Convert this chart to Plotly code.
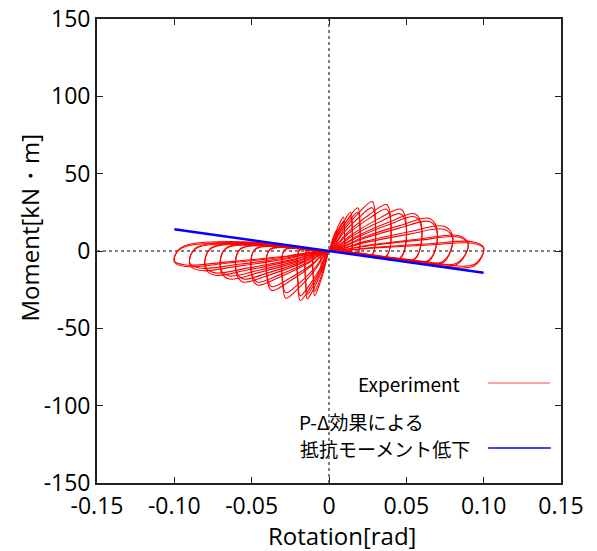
import plotly.graph_objects as go

# ---- data ----
x_ticks = [-0.15, -0.10, -0.05, 0, 0.05, 0.10, 0.15]
x_tick_labels = ["-0.15", "-0.10", "-0.05", "0", "0.05", "0.10", "0.15"]
y_ticks = [-150, -100, -50, 0, 50, 100, 150]
y_tick_labels = ["-150", "-100", "-50", "0", "50", "100", "150"]

# P-delta resisting moment reduction line
pdelta_x = [-0.10, 0.10]
pdelta_y = [14, -14]

# Experiment: positive half cycles (loading, peak, tip, unloading points)
pos_half_cycles = [
    [(0.0015, 5.2), (0.0033, 10.1), (0.0047, 13), (0.005, 8.1), (0.0046, -0.5), (0.0028, -0.4)],
    [(0.003, 8.8), (0.0065, 17.2), (0.0093, 22), (0.01, 13.4), (0.0092, -1), (0.0055, -0.7)],
    [(0.003, 7.6), (0.0065, 14.8), (0.0093, 19), (0.01, 11.3), (0.0092, -0.9), (0.0055, -0.6)],
    [(0.0045, 10), (0.0098, 19.5), (0.014, 25), (0.015, 15.5), (0.0138, -1.4), (0.0083, -1.1)],
    [(0.0045, 8.8), (0.0098, 17.2), (0.014, 22), (0.015, 13.4), (0.0138, -1.3), (0.0083, -0.9)],
    [(0.006, 11.2), (0.013, 21.8), (0.0186, 28), (0.02, 17.6), (0.0184, -1.9), (0.011, -1.4)],
    [(0.006, 10), (0.013, 19.5), (0.0186, 25), (0.02, 15.5), (0.0184, -1.7), (0.011, -1.2)],
    [(0.009, 12.8), (0.0195, 25), (0.0279, 32), (0.03, 20.4), (0.0276, -2.9), (0.0165, -2.1)],
    [(0.009, 11.2), (0.0195, 21.8), (0.0279, 28), (0.03, 17.6), (0.0276, -2.6), (0.0165, -1.8)],
    [(0.012, 12), (0.026, 23.4), (0.0372, 30), (0.04, 19), (0.0368, -3.8), (0.022, -2.8)],
    [(0.012, 10.8), (0.026, 21.1), (0.0372, 27), (0.04, 16.9), (0.0368, -3.4), (0.022, -2.4)],
    [(0.015, 10.8), (0.0325, 21.1), (0.0465, 27), (0.05, 16.9), (0.046, -4.8), (0.0275, -3.5)],
    [(0.015, 9.6), (0.0325, 18.7), (0.0465, 24), (0.05, 14.8), (0.046, -4.3), (0.0275, -3)],
    [(0.018, 9.6), (0.039, 18.7), (0.0558, 24), (0.06, 14.8), (0.0552, -5.7), (0.033, -4.2)],
    [(0.018, 8.8), (0.039, 17.2), (0.0558, 22), (0.06, 13.4), (0.0552, -5.1), (0.033, -3.6)],
    [(0.021, 8.4), (0.0455, 16.4), (0.0651, 21), (0.07, 12.7), (0.0644, -6.7), (0.0385, -4.9)],
    [(0.021, 7.6), (0.0455, 14.8), (0.0651, 19), (0.07, 11.3), (0.0644, -6), (0.0385, -4.2)],
    [(0.024, 6.4), (0.052, 12.5), (0.0744, 16), (0.08, 9.2), (0.0736, -7.6), (0.044, -5.6)],
    [(0.024, 5.6), (0.052, 10.9), (0.0744, 14), (0.08, 7.8), (0.0736, -6.8), (0.044, -4.8)],
    [(0.027, 4), (0.0585, 7.8), (0.0837, 10), (0.09, 5), (0.0828, -8.6), (0.0495, -6.3)],
    [(0.027, 3.6), (0.0585, 7), (0.0837, 9), (0.09, 4.3), (0.0828, -7.7), (0.0495, -5.4)],
    [(0.03, 2.4), (0.065, 4.7), (0.093, 6), (0.1, 2.2), (0.094, -9.5), (0.055, -7)],
    [(0.03, 2), (0.065, 3.9), (0.093, 5), (0.1, 1.5), (0.094, -8.5), (0.055, -6)],
]

# Experiment: negative half cycles
neg_half_cycles = [
    [(-0.0015, -5.6), (-0.0033, -10.9), (-0.0047, -14), (-0.005, -9.8), (-0.0048, 0.1), (-0.0028, 0.3)],
    [(-0.003, -11.6), (-0.0065, -22.6), (-0.0093, -29), (-0.01, -20.3), (-0.0096, 0.2), (-0.0055, 0.6)],
    [(-0.003, -10.4), (-0.0065, -20.3), (-0.0093, -26), (-0.01, -18.2), (-0.0096, 0.2), (-0.0055, 0.5)],
    [(-0.0045, -12.4), (-0.0098, -24.2), (-0.014, -31), (-0.015, -21.7), (-0.0144, 0.3), (-0.0083, 0.9)],
    [(-0.0045, -11.2), (-0.0098, -21.8), (-0.014, -28), (-0.015, -19.6), (-0.0144, 0.2), (-0.0083, 0.8)],
    [(-0.006, -12.8), (-0.013, -25), (-0.0186, -32), (-0.02, -22.4), (-0.0192, 0.4), (-0.011, 1.2)],
    [(-0.006, -11.6), (-0.013, -22.6), (-0.0186, -29), (-0.02, -20.3), (-0.0192, 0.3), (-0.011, 1)],
    [(-0.009, -12.2), (-0.0195, -23.8), (-0.0279, -30.5), (-0.03, -21.4), (-0.0288, 0.6), (-0.0165, 1.8)],
    [(-0.009, -10.8), (-0.0195, -21.1), (-0.0279, -27), (-0.03, -18.9), (-0.0288, 0.5), (-0.0165, 1.5)],
    [(-0.012, -10.2), (-0.026, -19.9), (-0.0372, -25.5), (-0.04, -17.9), (-0.0384, 0.8), (-0.022, 2.4)],
    [(-0.012, -9.2), (-0.026, -17.9), (-0.0372, -23), (-0.04, -16.1), (-0.0384, 0.6), (-0.022, 2)],
    [(-0.015, -8.8), (-0.0325, -17.2), (-0.0465, -22), (-0.05, -15.4), (-0.048, 1), (-0.0275, 3)],
    [(-0.015, -8), (-0.0325, -15.6), (-0.0465, -20), (-0.05, -14), (-0.048, 0.8), (-0.0275, 2.5)],
    [(-0.018, -8), (-0.039, -15.6), (-0.0558, -20), (-0.06, -14), (-0.0576, 1.2), (-0.033, 3.6)],
    [(-0.018, -7.2), (-0.039, -14), (-0.0558, -18), (-0.06, -12.6), (-0.0576, 0.9), (-0.033, 3)],
    [(-0.021, -7.2), (-0.0455, -14), (-0.0651, -18), (-0.07, -12.6), (-0.0672, 1.4), (-0.0385, 4.2)],
    [(-0.021, -6.4), (-0.0455, -12.5), (-0.0651, -16), (-0.07, -11.2), (-0.0672, 1.1), (-0.0385, 3.5)],
    [(-0.024, -6.2), (-0.052, -12.1), (-0.0744, -15.5), (-0.08, -10.9), (-0.0768, 1.6), (-0.044, 4.8)],
    [(-0.024, -5.6), (-0.052, -10.9), (-0.0744, -14), (-0.08, -9.8), (-0.0768, 1.2), (-0.044, 4)],
    [(-0.027, -5), (-0.0585, -9.8), (-0.0837, -12.5), (-0.09, -8.8), (-0.0864, 1.8), (-0.0495, 5.4)],
    [(-0.027, -4.4), (-0.0585, -8.6), (-0.0837, -11), (-0.09, -7.7), (-0.0864, 1.4), (-0.0495, 4.5)],
    [(-0.03, -4), (-0.065, -7.8), (-0.093, -10), (-0.1, -7), (-0.096, 2), (-0.055, 6)],
    [(-0.03, -3.6), (-0.065, -7), (-0.093, -9), (-0.1, -6.3), (-0.096, 1.5), (-0.055, 5)],
]

origin = (0.0, 0.0)

fig = go.Figure()

# dotted zero axes
fig.add_shape(type="line", x0=0, x1=0, y0=-150, y1=150, xref="x", yref="y",
              line=dict(color="black", width=1, dash="dot"), layer="below")
fig.add_shape(type="line", x0=-0.15, x1=0.15, y0=0, y1=0, xref="x", yref="y",
              line=dict(color="black", width=1, dash="dot"), layer="below")

for pos, neg in zip(pos_half_cycles, neg_half_cycles):
    path = [origin] + pos + [origin] + neg + [origin]
    fig.add_trace(go.Scatter(
        x=[p[0] for p in path], y=[p[1] for p in path], mode="lines",
        line=dict(color="#ff0000", width=1.1, shape="spline", smoothing=1.0),
        showlegend=False, hoverinfo="skip"))

fig.add_trace(go.Scatter(x=pdelta_x, y=pdelta_y, mode="lines",
                         line=dict(color="#0000ff", width=2.5), showlegend=False))

axis_common = dict(
    showgrid=False, zeroline=False, showline=True, linecolor="#222222", linewidth=1.8,
    mirror="allticks", ticks="inside", ticklen=6, tickcolor="#222222", tickwidth=1,
    tickfont=dict(family="Open Sans", size=23, color="black"), automargin=False,
)
fig.update_xaxes(range=[-0.15, 0.15], tickvals=x_ticks, ticktext=x_tick_labels,
                 ticklabelstandoff=1, **axis_common)
fig.update_yaxes(range=[-150, 150], tickvals=y_ticks, ticktext=y_tick_labels, **axis_common)

ann_font = dict(family="Noto Sans CJK JP", size=19, color="black")
title_font = dict(family="Open Sans", size=24, color="black")
annotations = [
    dict(text="Rotation[rad]", x=0.527, y=-0.113, xref="paper", yref="paper",
         showarrow=False, xanchor="center", yanchor="middle", font=title_font),
    dict(text="Moment[kN・m]", x=-0.145, y=0.55, xref="paper", yref="paper",
         showarrow=False, textangle=-90, xanchor="center", yanchor="middle", font=title_font),
    dict(text="Experiment", x=0.787, y=0.2155, xref="paper", yref="paper",
         showarrow=False, xanchor="right", yanchor="middle", font=ann_font),
    dict(text="P-Δ効果による", x=0.431, y=0.1336, xref="paper", yref="paper",
         showarrow=False, xanchor="left", yanchor="middle", font=ann_font),
    dict(text="抵抗モーメント低下", x=0.433, y=0.0754, xref="paper", yref="paper",
         showarrow=False, xanchor="left", yanchor="middle", font=ann_font),
]
fig.add_shape(type="line", x0=0.843, x1=0.976, y0=0.2155, y1=0.2155, xref="paper", yref="paper",
              line=dict(color="#ff7f7f", width=1.5))
fig.add_shape(type="line", x0=0.843, x1=0.978, y0=0.0754, y1=0.0754, xref="paper", yref="paper",
              line=dict(color="#0000ff", width=1.5))

fig.update_layout(
    width=597, height=551,
    margin=dict(l=97, r=36, t=19, b=68),
    plot_bgcolor="white", paper_bgcolor="white",
    annotations=annotations,
)

fig.write_html("out.html")
